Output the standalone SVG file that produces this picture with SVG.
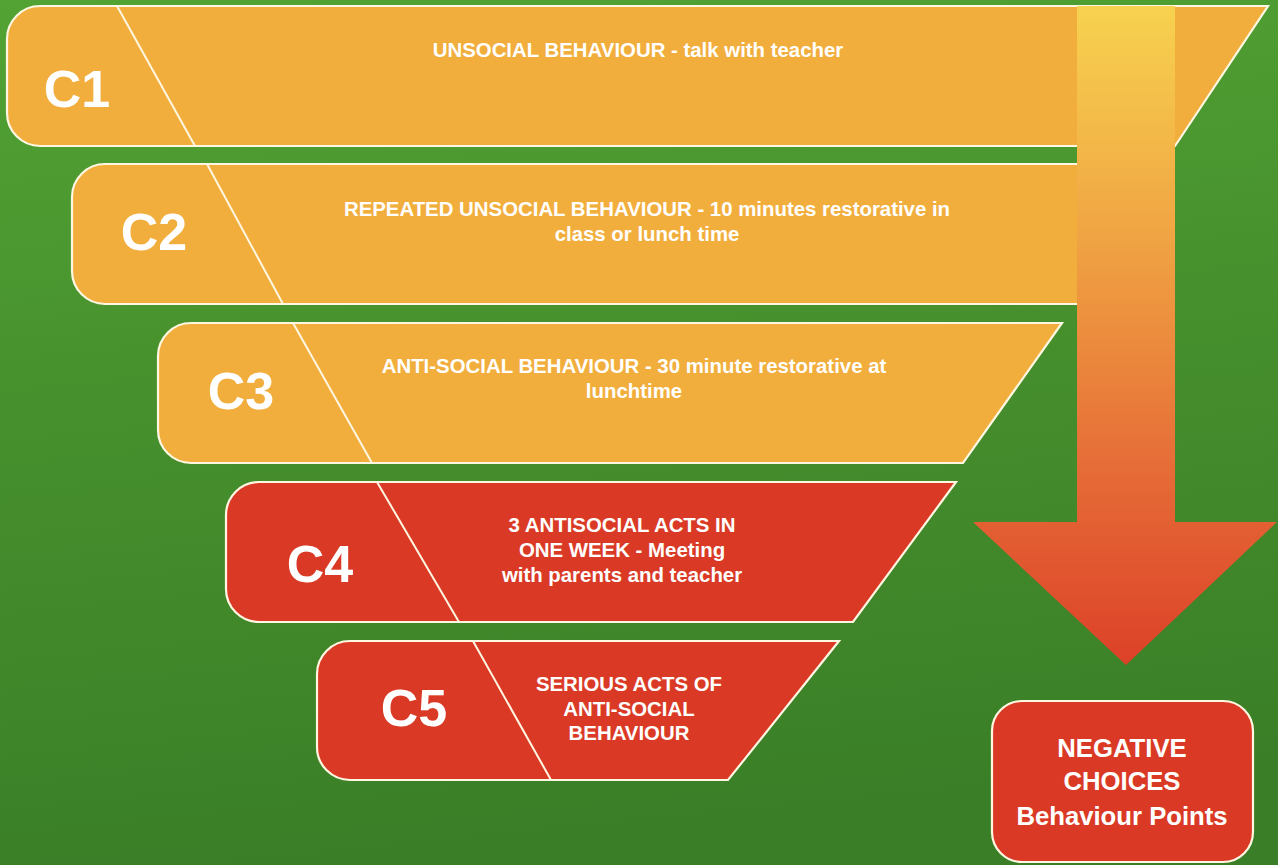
<svg xmlns="http://www.w3.org/2000/svg" width="1278" height="865" viewBox="0 0 1278 865">
  <defs>
    <linearGradient id="bg" x1="0" y1="0" x2="0.15" y2="1">
      <stop offset="0" stop-color="#52a334"/>
      <stop offset="0.5" stop-color="#468f2d"/>
      <stop offset="1" stop-color="#3a7f27"/>
    </linearGradient>
    <linearGradient id="arrowFill" x1="0" y1="6" x2="0" y2="665" gradientUnits="userSpaceOnUse">
      <stop offset="0" stop-color="#f7d24f"/>
      <stop offset="0.35" stop-color="#f0a443"/>
      <stop offset="0.7" stop-color="#e66c37"/>
      <stop offset="1" stop-color="#dc4128"/>
    </linearGradient>
    <style>
      .amber { fill: #f2ae3c; stroke: #fff7e2; stroke-width: 2.2; }
      .red { fill: #da3a25; stroke: #fff7e2; stroke-width: 2.2; }
      .divider { stroke: #fff7e2; stroke-width: 2; fill: none; }
      .tag { font-family: "Liberation Sans", Arial, sans-serif; font-weight: bold; font-size: 52px; fill: #ffffff; text-anchor: middle; }
      .desc { font-family: "Liberation Sans", Arial, sans-serif; font-weight: bold; font-size: 20.4px; fill: #ffffff; text-anchor: middle; }
      .result { font-family: "Liberation Sans", Arial, sans-serif; font-weight: bold; font-size: 25.7px; fill: #ffffff; text-anchor: middle; }
    </style>
  </defs>

  <!-- background -->
  <rect x="0" y="0" width="1278" height="865" fill="url(#bg)"/>

  <!-- level C1 -->
  <g id="c1">
    <path class="amber" d="M40,6 H1268 L1175,146 H40 A33,33 0 0 1 7,113 V39 A33,33 0 0 1 40,6 Z"/>
    <line class="divider" x1="117" y1="6" x2="195" y2="146"/>
    <text class="tag" x="77" y="107">C1</text>
    <text class="desc" x="638" y="57">UNSOCIAL BEHAVIOUR - talk with teacher</text>
  </g>

  <!-- level C2 -->
  <g id="c2">
    <path class="amber" d="M105,164 H1170 L1080,304 H105 A33,33 0 0 1 72,271 V197 A33,33 0 0 1 105,164 Z"/>
    <line class="divider" x1="207" y1="164" x2="283" y2="304"/>
    <text class="tag" x="154" y="250">C2</text>
    <text class="desc" x="647" y="216">REPEATED UNSOCIAL BEHAVIOUR - 10 minutes restorative in</text>
    <text class="desc" x="647" y="241">class or lunch time</text>
  </g>

  <!-- level C3 -->
  <g id="c3">
    <path class="amber" d="M191,323 H1062 L963,463 H191 A33,33 0 0 1 158,430 V356 A33,33 0 0 1 191,323 Z"/>
    <line class="divider" x1="293" y1="323" x2="372" y2="463"/>
    <text class="tag" x="241" y="409">C3</text>
    <text class="desc" x="634" y="373">ANTI-SOCIAL BEHAVIOUR - 30 minute restorative at</text>
    <text class="desc" x="634" y="398">lunchtime</text>
  </g>

  <!-- level C4 -->
  <g id="c4">
    <path class="red" d="M259,482 H956 L853,622 H259 A33,33 0 0 1 226,589 V515 A33,33 0 0 1 259,482 Z"/>
    <line class="divider" x1="377" y1="482" x2="459" y2="622"/>
    <text class="tag" x="320" y="582">C4</text>
    <text class="desc" x="622" y="532">3 ANTISOCIAL ACTS IN</text>
    <text class="desc" x="622" y="557">ONE WEEK - Meeting</text>
    <text class="desc" x="622" y="582">with parents and teacher</text>
  </g>

  <!-- level C5 -->
  <g id="c5">
    <path class="red" d="M350,641 H839 L728,780 H350 A33,33 0 0 1 317,747 V674 A33,33 0 0 1 350,641 Z"/>
    <line class="divider" x1="473" y1="641" x2="551" y2="780"/>
    <text class="tag" x="414" y="726">C5</text>
    <text class="desc" x="629" y="691">SERIOUS ACTS OF</text>
    <text class="desc" x="629" y="716">ANTI-SOCIAL</text>
    <text class="desc" x="629" y="740">BEHAVIOUR</text>
  </g>

  <!-- escalation arrow -->
  <g id="connectors">
    <polygon fill="url(#arrowFill)" points="1077,6 1175,6 1175,522 1277,522 1126,665 973,522 1077,522"/>
  </g>

  <!-- outcome box -->
  <g id="outcome">
    <rect class="red" x="992" y="701" width="261" height="161" rx="30" ry="30"/>
    <text class="result" x="1122" y="757">NEGATIVE</text>
    <text class="result" x="1122" y="790">CHOICES</text>
    <text class="result" x="1122" y="825">Behaviour Points</text>
  </g>
</svg>
